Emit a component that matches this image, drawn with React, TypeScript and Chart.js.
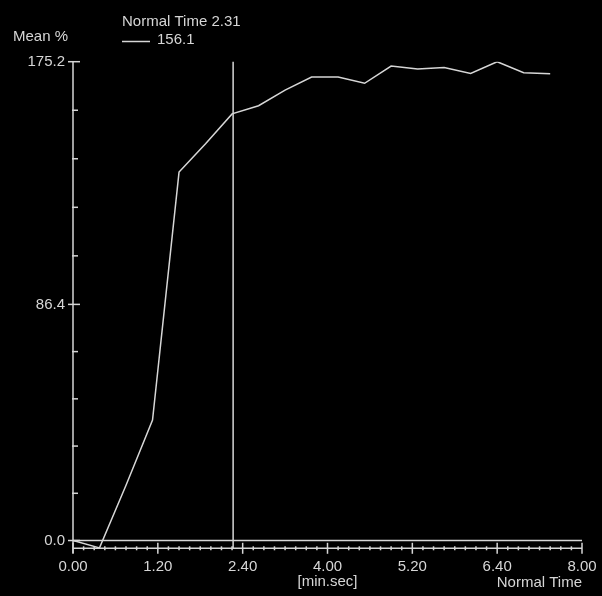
import React, { useEffect, useRef } from 'react';
import { Chart, registerables } from 'chart.js';

Chart.register(...registerables);

// ---- data ----
const timesSec = [0, 25, 50, 75, 100, 125, 150, 175, 200, 225, 250, 275, 300, 325, 350, 375, 400, 425, 450];
const meanPct = [0.0, -2.7, 20.2, 44.1, 134.8, 145.2, 156.1, 159.1, 164.8, 169.6, 169.6, 167.3, 173.6, 172.5, 173.1, 170.9, 175.2, 171.2, 170.8];
const xMajorTicks = [0, 80, 160, 240, 320, 400, 480];
const xMinorStep = 10;
const yMajorTicks = [0, 86.4, 175.2];
const yMinorDivisions = 5;
const cursorTime = 151;
const cursorValue = 156.1;
const yAxisTitle = 'Mean %';
const xAxisUnit = '[min.sec]';
const xAxisName = 'Normal Time';

const FG = '#d6d6d6';
const FONT_FAMILY = '"Liberation Sans", Arial, sans-serif';
const FONT_SIZE = 15;

const fmtMinSec = (v: number) => {
  const m = Math.floor(v / 60);
  const s = Math.round(v - m * 60);
  return `${m}.${String(s).padStart(2, '0')}`;
};

const yAllTicks: number[] = (() => {
  const out: number[] = [];
  for (let i = 0; i < yMajorTicks.length - 1; i++) {
    const a = yMajorTicks[i];
    const b = yMajorTicks[i + 1];
    for (let k = 0; k < yMinorDivisions; k++) out.push(a + ((b - a) * k) / yMinorDivisions);
  }
  out.push(yMajorTicks[yMajorTicks.length - 1]);
  return out;
})();

const decorPlugin = {
  id: 'decor',
  afterDraw(chart: any) {
    const { ctx, chartArea } = chart;
    const xs = chart.scales.x;
    const ys = chart.scales.y;
    const xMin = xMajorTicks[0];
    const xMax = xMajorTicks[xMajorTicks.length - 1];
    const yMax = yMajorTicks[yMajorTicks.length - 1];
    const x0 = xs.getPixelForValue(xMin);
    const x1 = xs.getPixelForValue(xMax);
    const yTop = ys.getPixelForValue(yMax);
    const yZero = ys.getPixelForValue(0);
    const yAxis = chartArea.bottom;

    ctx.save();
    ctx.strokeStyle = FG;
    ctx.lineWidth = 1.5;
    const line = (ax: number, ay: number, bx: number, by: number) => {
      ctx.beginPath();
      ctx.moveTo(ax, ay);
      ctx.lineTo(bx, by);
      ctx.stroke();
    };
    // y axis
    line(x0, yTop, x0, yAxis + 5);
    // zero line
    line(x0, yZero, x1, yZero);
    // x axis line
    line(x0, yAxis, x1, yAxis);
    // x ticks
    for (let t = xMin; t <= xMax; t += xMinorStep) {
      const px = xs.getPixelForValue(t);
      if (xMajorTicks.includes(t)) line(px, yAxis - 5.5, px, yAxis + 5.5);
      else line(px, yAxis - 2, px, yAxis + 2);
    }
    // y ticks
    yAllTicks.forEach((v) => {
      const py = ys.getPixelForValue(v);
      if (yMajorTicks.includes(v)) line(x0 - 5, py, x0 + 7, py);
      else line(x0 - 1, py, x0 + 5, py);
    });
    // cursor
    const xc = xs.getPixelForValue(cursorTime);
    line(xc, yTop, xc, yAxis);

    // texts
    ctx.fillStyle = FG;
    ctx.font = `${FONT_SIZE}px ${FONT_FAMILY}`;
    ctx.textBaseline = 'middle';
    ctx.textAlign = 'left';
    ctx.fillText(yAxisTitle, 13, 37);
    ctx.fillText(`${xAxisName} ${fmtMinSec(cursorTime)}`, 122, 22);
    line(122, 41.5, 150, 41.5);
    ctx.fillText(cursorValue.toFixed(1), 157, 40);
    ctx.textAlign = 'center';
    ctx.fillText(xAxisUnit, (x0 + x1) / 2, 582);
    ctx.textAlign = 'right';
    ctx.fillText(xAxisName, x1, 583);
    ctx.restore();
  },
};

export default function App() {
  const ref = useRef<HTMLCanvasElement | null>(null);

  useEffect(() => {
    document.body.style.margin = '0';
    document.body.style.background = '#000';
    document.documentElement.style.background = '#000';
    const canvas = ref.current;
    if (!canvas) return;
    Chart.defaults.font.family = FONT_FAMILY;
    Chart.defaults.font.size = FONT_SIZE;
    Chart.defaults.color = FG;

    const chart = new Chart(canvas, {
      type: 'line',
      data: {
        datasets: [
          {
            label: yAxisTitle,
            data: timesSec.map((t, i) => ({ x: t, y: meanPct[i] })),
            borderColor: FG,
            borderWidth: 1.5,
            pointRadius: 0,
            tension: 0,
            fill: false,
          },
        ],
      },
      options: {
        responsive: false,
        animation: false,
        devicePixelRatio: 1,
        layout: { padding: { left: 0, right: 20, top: 61.7, bottom: 0 } },
        plugins: { legend: { display: false }, tooltip: { enabled: false } },
        scales: {
          x: {
            type: 'linear',
            min: xMajorTicks[0],
            max: xMajorTicks[xMajorTicks.length - 1],
            grid: { display: false, drawTicks: false },
            border: { display: false },
            afterBuildTicks: (scale: any) => {
              scale.ticks = xMajorTicks.map((v) => ({ value: v }));
            },
            afterFit: (scale: any) => {
              scale.height = 47.7;
              scale.paddingLeft = 0;
              scale.paddingRight = 0;
            },
            ticks: {
              padding: 10,
              maxRotation: 0,
              autoSkip: false,
              color: FG,
              font: { size: FONT_SIZE, family: FONT_FAMILY },
              callback: (v: any) => fmtMinSec(Number(v)),
            },
          },
          y: {
            type: 'linear',
            min: -2.85,
            max: yMajorTicks[yMajorTicks.length - 1],
            grid: { display: false, drawTicks: false },
            border: { display: false },
            afterBuildTicks: (scale: any) => {
              scale.ticks = yAllTicks.map((v) => ({ value: v }));
            },
            afterFit: (scale: any) => {
              scale.width = 73;
              scale.paddingTop = 0;
              scale.paddingBottom = 0;
            },
            ticks: {
              padding: 8,
              autoSkip: false,
              color: FG,
              font: { size: FONT_SIZE, family: FONT_FAMILY },
              callback: (v: any) => (yMajorTicks.includes(Number(v)) ? Number(v).toFixed(1) : ''),
            },
          },
        },
      },
      plugins: [decorPlugin],
    } as any);

    return () => chart.destroy();
  }, []);

  return (
    <div style={{ width: 602, height: 596, background: '#000' }}>
      <canvas ref={ref} width={602} height={596} style={{ display: 'block', width: 602, height: 596 }} />
    </div>
  );
}
